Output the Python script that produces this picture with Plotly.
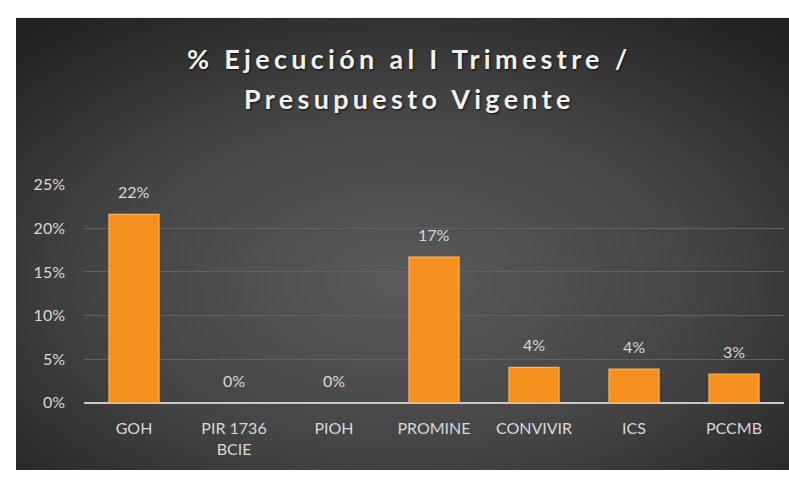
import base64
import plotly.graph_objects as go

categories = ["GOH", "PIR 1736<br>BCIE", "PIOH", "PROMINE", "CONVIVIR", "ICS", "PCCMB"]
values = [0.216, 0.0, 0.0, 0.167, 0.0405, 0.0385, 0.033]
labels = ["22%", "0%", "0%", "17%", "4%", "4%", "3%"]
tick_vals = [0, 0.05, 0.10, 0.15, 0.20, 0.25]
tick_text = ["0%", "5%", "10%", "15%", "20%", "25%"]
title_lines = ["% Ejecución al I Trimestre /", "Presupuesto Vigente"]

W, H = 789, 479
PX0, PY0 = 16, 8  # panel top-left

svg = (
    '<svg xmlns="http://www.w3.org/2000/svg" width="773" height="471" '
    'viewBox="0 0 100 100" preserveAspectRatio="none">'
    '<defs><radialGradient id="g" cx="50%" cy="58%" r="72%">'
    '<stop offset="0%" stop-color="#5a5a5a"/>'
    '<stop offset="55%" stop-color="#444444"/>'
    '<stop offset="100%" stop-color="#222222"/>'
    '</radialGradient></defs>'
    '<rect x="0" y="0" width="100" height="100" fill="url(#g)"/></svg>'
)
bg_src = "data:image/svg+xml;base64," + base64.b64encode(svg.encode()).decode()

fig = go.Figure()
fig.add_trace(go.Bar(
    x=categories, y=values,
    marker=dict(color="#F5901F",
                line=dict(color="#FDB55A", width=[1.2 if v > 0 else 0 for v in values])),
    width=0.5,
    hoverinfo="skip",
))

for c, v, t in zip(categories, values, labels):
    fig.add_annotation(
        x=c, y=v, text=t, showarrow=False, yanchor="bottom", yshift=11,
        font=dict(family="Lato, sans-serif", size=16, color="#d9d9d9"),
    )

for line, yc in zip(title_lines, [50, 92]):
    fig.add_annotation(
        xref="paper", yref="paper", x=409 / W, y=1 - yc / H,
        text='<span style="letter-spacing:4.3px">' + line + '</span>',
        showarrow=False, align="center", yanchor="middle", xanchor="center",
        font=dict(family="Lato, sans-serif", size=27, color="#f2f2f2",
                  weight="bold", shadow="1px 1px 2px #111"),
    )

x0 = 84 / W
x1 = 784 / W
y0 = (H - 409) / H
y1 = (H - 182) / H

fig.update_layout(
    width=W, height=H,
    margin=dict(l=0, r=0, t=0, b=0),
    paper_bgcolor="white",
    plot_bgcolor="rgba(0,0,0,0)",
    showlegend=False,
    images=[dict(
        source=bg_src, xref="paper", yref="paper",
        x=PX0 / W, y=1 - PY0 / H, sizex=(W - PX0) / W, sizey=(H - PY0) / H,
        xanchor="left", yanchor="top", sizing="stretch", layer="below",
    )],
    xaxis=dict(
        domain=[x0, x1], showgrid=False, zeroline=False, showline=False,
        ticks="", ticklabelstandoff=14,
        tickfont=dict(family="Lato, sans-serif", size=16, color="#d9d9d9"),
        fixedrange=True,
    ),
    yaxis=dict(
        domain=[y0, y1], range=[0, 0.25], tickvals=tick_vals, ticktext=tick_text,
        showgrid=True, gridcolor="#626262", gridwidth=1,
        zeroline=True, zerolinecolor="#c8c8c8", zerolinewidth=2,
        showline=False, ticks="", ticklabelstandoff=18,
        tickfont=dict(family="Lato, sans-serif", size=16, color="#d9d9d9"),
        fixedrange=True,
    ),
)

fig.write_html("out.html", config={"displayModeBar": False},
               post_script="document.body.style.margin='0';document.body.style.overflow='hidden';")
